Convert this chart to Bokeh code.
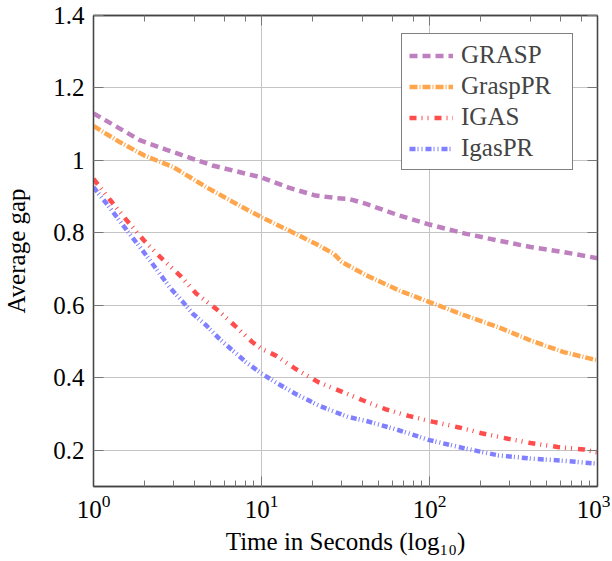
from bokeh.plotting import figure
from bokeh.models import (Range1d, LogAxis, LinearAxis, FixedTicker, LogTicker,
                          CustomJSTickFormatter, Legend, LegendItem)
from bokeh.embed import file_html
from bokeh.resources import INLINE

# ---------------- data ----------------
grasp_x = [1, 1.9, 2.7, 5.1, 10, 14.5, 21, 28, 33, 42, 66, 100, 163, 256, 400, 630, 1000]
grasp_y = [1.13, 1.055, 1.03, 0.986, 0.953, 0.925, 0.903, 0.896, 0.894, 0.880, 0.848,
           0.823, 0.798, 0.779, 0.761, 0.747, 0.73]

grasppr_x = [1, 1.44, 2, 3, 4.7, 7.35, 10, 14.5, 21, 27, 30, 42, 66, 100, 163, 256, 400, 630, 1000]
grasppr_y = [1.095, 1.05, 1.014, 0.981, 0.926, 0.876, 0.843, 0.807, 0.770, 0.742, 0.72,
             0.683, 0.641, 0.609, 0.572, 0.540, 0.503, 0.471, 0.448]

igas_x = [1, 1.26, 1.58, 2, 2.5, 3.26, 4.1, 5.35, 6.9, 8.8, 10, 12.1, 15.9, 21.8, 30, 40,
          55, 75, 104, 150, 204, 293, 400, 580, 830, 1000]
igas_y = [0.949, 0.890, 0.834, 0.779, 0.733, 0.683, 0.632, 0.591, 0.545, 0.499, 0.480,
          0.462, 0.425, 0.388, 0.362, 0.338, 0.313, 0.295, 0.279, 0.263, 0.247, 0.232,
          0.220, 0.209, 0.202, 0.194]

igaspr_x = [1, 1.2, 1.38, 1.61, 1.89, 2.17, 2.48, 2.84, 3.41, 3.9, 4.68, 5.6, 6.71, 8.05,
            10, 12.1, 15.9, 21.8, 27.3, 32.7, 42, 66, 100, 163, 256, 400, 630, 1000]
igaspr_y = [0.926, 0.880, 0.843, 0.802, 0.761, 0.724, 0.687, 0.650, 0.609, 0.577, 0.545,
            0.508, 0.476, 0.444, 0.412, 0.388, 0.356, 0.324, 0.306, 0.292, 0.281, 0.255,
            0.228, 0.205, 0.186, 0.177, 0.171, 0.163]

series_names = ["GRASP", "GraspPR", "IGAS", "IgasPR"]
y_ticks = [0.2, 0.4, 0.6, 0.8, 1.0, 1.2, 1.4]
x_label = "Time in Seconds (log\u2081\u2080)"
y_label = "Average gap"

# ---------------- styles ----------------
FONT = "Liberation Serif"
FS = "25px"
colors = ["#BF80BF", "#FFA64D", "#FF4D4D", "#8080FF"]
dashes = ["8 5", "8 2 1 2", "7 5 1 5 1 6", "6 2 1 3 1 3"]
LW = 4.5

p = figure(width=610, height=558, x_axis_type="log",
           x_range=Range1d(1, 1000), y_range=Range1d(0.1, 1.4),
           output_backend="svg", toolbar_location=None,
           min_border_left=89, min_border_right=13, min_border_top=15, min_border_bottom=72)

p.outline_line_color = "#444444"
p.outline_line_width = 1.3
p.background_fill_color = "white"
p.border_fill_color = "white"

# grids
p.xgrid.grid_line_color = "#C4C4C4"
p.ygrid.grid_line_color = "#C4C4C4"
p.xgrid.grid_line_width = 1
p.ygrid.grid_line_width = 1
p.yaxis.ticker = FixedTicker(ticks=y_ticks)
p.ygrid.ticker = FixedTicker(ticks=y_ticks)

yfmt = CustomJSTickFormatter(code="return String(Math.round(tick*10)/10);")
p.yaxis.formatter = yfmt

for ax in (p.xaxis[0], p.yaxis[0]):
    ax.axis_line_color = "#444444"
    ax.axis_line_width = 1.3
    ax.major_tick_in = 10
    ax.major_tick_out = 0
    ax.minor_tick_in = 6
    ax.minor_tick_out = 0
    ax.major_tick_line_color = "#777777"
    ax.minor_tick_line_color = "#777777"
    ax.major_label_text_font = FONT
    ax.major_label_text_font_size = FS
    ax.major_label_text_color = "black"
    ax.axis_label_text_font = FONT
    ax.axis_label_text_font_size = FS
    ax.axis_label_text_font_style = "normal"
    ax.axis_label_text_color = "black"
    ax.major_label_standoff = 9

p.yaxis.minor_tick_line_color = None
p.xaxis.axis_label = x_label
p.yaxis.axis_label = y_label
p.xaxis.axis_label_standoff = 7
p.xaxis.major_label_standoff = 8
p.yaxis.axis_label_standoff = 20

# top & right axes: ticks only
blank = CustomJSTickFormatter(code="return '';")
top = LogAxis(ticker=LogTicker(), formatter=blank, major_tick_in=10, major_tick_out=0,
              minor_tick_in=6, minor_tick_out=0, major_label_standoff=0,
              major_tick_line_color="#777777", minor_tick_line_color="#777777",
              axis_line_color="#444444", axis_line_width=1.3,
              major_label_text_font_size="1px")
right = LinearAxis(ticker=FixedTicker(ticks=y_ticks), formatter=blank, major_tick_in=10,
                   major_tick_out=0, minor_tick_line_color=None, major_label_standoff=0,
                   major_tick_line_color="#777777",
                   axis_line_color="#444444", axis_line_width=1.3,
                   major_label_text_font_size="1px")
p.add_layout(top, "above")
p.add_layout(right, "right")

xs = [grasp_x, grasppr_x, igas_x, igaspr_x]
ys = [grasp_y, grasppr_y, igas_y, igaspr_y]
items = []
for name, x, y, c, d in zip(series_names, xs, ys, colors, dashes):
    r = p.line(x, y, line_color=c, line_width=LW, line_dash=d)
    items.append(LegendItem(label=name, renderers=[r]))

legend = Legend(items=items, location=(308, 316), margin=0,
                label_text_font=FONT, label_text_font_size=FS,
                label_height=25, glyph_height=25, glyph_width=44, label_width=104,
                label_standoff=8, spacing=3, padding=7,
                border_line_color="black", border_line_width=1,
                background_fill_color="white", background_fill_alpha=1)
p.add_layout(legend)

open("out.html", "w").write(file_html(p, INLINE))
